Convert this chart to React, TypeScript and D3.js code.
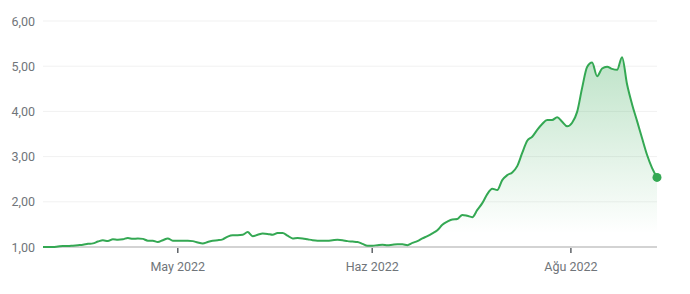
import React from "react";
import * as d3 from "d3";

const values: number[] = [
  1.0, 1.0, 1.0, 1.01, 1.02, 1.02, 1.03, 1.04, 1.05, 1.07,
  1.08, 1.12, 1.15, 1.13, 1.17, 1.16, 1.17, 1.2, 1.18, 1.19,
  1.18, 1.14, 1.14, 1.11, 1.15, 1.19, 1.14, 1.14, 1.14, 1.14,
  1.13, 1.1, 1.08, 1.11, 1.14, 1.15, 1.17, 1.23, 1.26, 1.26,
  1.27, 1.33, 1.24, 1.27, 1.3, 1.29, 1.27, 1.31, 1.31, 1.25,
  1.19, 1.2, 1.19, 1.17, 1.15, 1.14, 1.14, 1.14, 1.15, 1.16,
  1.15, 1.13, 1.12, 1.11, 1.07, 1.03, 1.03, 1.04, 1.05, 1.04,
  1.05, 1.06, 1.06, 1.04, 1.09, 1.13, 1.19, 1.24, 1.3, 1.37,
  1.49, 1.56, 1.61, 1.62, 1.71, 1.69, 1.66, 1.82, 1.97, 2.17,
  2.29, 2.26, 2.48, 2.59, 2.65, 2.79, 3.08, 3.35, 3.44, 3.59,
  3.72, 3.81, 3.81, 3.87, 3.77, 3.67, 3.75, 3.99, 4.52, 4.98,
  5.08, 4.78, 4.95, 4.99, 4.94, 4.92, 5.2, 4.6, 4.16, 3.79,
  3.41, 3.04, 2.75, 2.54,
];

const yTicks: number[] = [1, 2, 3, 4, 5, 6];
const xTickLabels: string[] = ["May 2022", "Haz 2022", "Ağu 2022"];
const xTickIndex: number[] = [27, 65.95, 105.75];

const W = 690;
const H = 294;
const left = 43;
const right = 657;
const top = 21;
const bottom = 247;
const green = "#34a853";
const textColor = "#70757a";
const font = "Roboto, Arial, sans-serif";

export default function App() {
  const x = d3.scaleLinear().domain([0, values.length - 1]).range([left, right]);
  const y = d3.scaleLinear().domain([1, 6]).range([bottom, top]);
  const pts = values.map((v, i) => [i, v] as [number, number]);
  const line = d3
    .line<[number, number]>()
    .x((d) => x(d[0]))
    .y((d) => y(d[1]))
    .curve(d3.curveMonotoneX);
  const area = d3
    .area<[number, number]>()
    .x((d) => x(d[0]))
    .y0(y(1))
    .y1((d) => y(d[1]))
    .curve(d3.curveMonotoneX);
  const maxV = d3.max(values) as number;
  const last = pts[pts.length - 1];
  const fmt = (v: number) => v.toFixed(2).replace(".", ",");

  return (
    <div style={{ position: "absolute", left: 0, top: 0 }}>
      <svg width={W} height={H} style={{ display: "block", background: "#fff" }}>
        <defs>
          <linearGradient
            id="fillGrad"
            gradientUnits="userSpaceOnUse"
            x1={0}
            x2={0}
            y1={y(maxV)}
            y2={y(1.3)}
          >
            <stop offset="0%" stopColor={green} stopOpacity={0.32} />
            <stop offset="100%" stopColor={green} stopOpacity={0} />
          </linearGradient>
        </defs>
        {yTicks.map((t) => (
          <g key={t}>
            {t > 1 && (
              <line
                x1={left}
                x2={right}
                y1={y(t)}
                y2={y(t)}
                stroke="#f1f1f1"
                strokeWidth={1}
              />
            )}
            <text
              x={35}
              y={y(t)}
              dy="0.36em"
              textAnchor="end"
              fontFamily={font}
              fontSize={12.5}
              fill={textColor}
            >
              {fmt(t)}
            </text>
          </g>
        ))}
        <path d={area(pts) as string} fill="url(#fillGrad)" />
        <line x1={left} x2={right} y1={y(1)} y2={y(1)} stroke="#c4c4c4" strokeWidth={1.5} />
        {xTickIndex.map((ti, k) => (
          <g key={k}>
            <line
              x1={x(ti)}
              x2={x(ti)}
              y1={y(1) + 1}
              y2={y(1) + 6}
              stroke="#5f6368"
              strokeWidth={1.5}
            />
            <text
              x={x(ti)}
              y={266}
              dy="0.36em"
              textAnchor="middle"
              fontFamily={font}
              fontSize={12.5}
              fill={textColor}
            >
              {xTickLabels[k]}
            </text>
          </g>
        ))}
        <path d={line(pts) as string} fill="none" stroke={green} strokeWidth={2} strokeLinejoin="round" />
        <circle cx={x(last[0])} cy={y(last[1])} r={4.5} fill={green} />
      </svg>
    </div>
  );
}
